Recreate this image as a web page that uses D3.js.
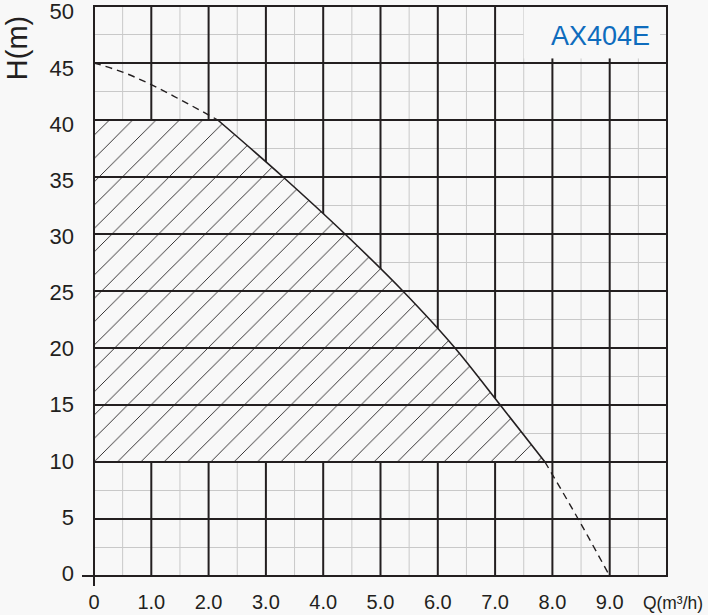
<!DOCTYPE html>
<html><head><meta charset="utf-8">
<script src="https://cdn.jsdelivr.net/npm/d3@7"></script>
<style>html,body{margin:0;padding:0;background:#f8f8f8;}svg{display:block;}</style>
</head><body>
<script>
// ---- data ----
const qTicks = [0, 1, 2, 3, 4, 5, 6, 7, 8, 9];
const qTickLabels = ["0", "1.0", "2.0", "3.0", "4.0", "5.0", "6.0", "7.0", "8.0", "9.0"];
const hTicks = [0, 5, 10, 15, 20, 25, 30, 35, 40, 45, 50];
const hTickLabels = ["0", "5", "10", "15", "20", "25", "30", "35", "40", "45", "50"];
const curveQ = [0, 0.5, 1.0, 1.5, 2.16, 3.3, 4.38, 5.39, 6.3, 7.09, 7.87, 8.45, 9.0];
const curveH = [45, 44.2, 43.1, 41.8, 40, 35, 30, 25, 20, 15, 10, 5, 0];
const solidFrom = 4, solidTo = 10; // indices of solid (working range) part
const hatchTop = 40, hatchBottom = 10;
const modelName = "AX404E";
const xTitle = "Q(m³/h)", yTitle = "H(m)";

const W = 708, Hh = 615;
const x = d3.scaleLinear().domain([0, 10]).range([94, 667]);
const y = d3.scaleLinear().domain([0, 50]).range([576, 6]);
const yLab = d3.scaleLinear().domain([0, 50]).range([573, 11.5]);

const dark = "#231f20", minorC = "#c9c9c9", bg = "#f8f8f8";
const svg = d3.select("body").append("svg").attr("width", W).attr("height", Hh);
svg.append("rect").attr("width", W).attr("height", Hh).attr("fill", bg);

// hatch pattern
const s = 23.33;
const defs = svg.append("defs");
const pat = defs.append("pattern").attr("id", "hatch").attr("patternUnits", "userSpaceOnUse")
  .attr("width", s).attr("height", s)
  .attr("x", (x(0) + y(hatchBottom)) % s).attr("y", 0);
pat.append("rect").attr("width", s).attr("height", s).attr("fill", bg);
pat.append("path").attr("d", `M-2,2L2,-2M0,${s}L${s},0M${s-2},${s+2}L${s+2},${s-2}`)
  .attr("stroke", dark).attr("stroke-width", 0.9);

// minor grid
const minorQ = d3.range(0.5, 10, 1), minorH = d3.range(2.5, 50, 5);
svg.append("g").selectAll("line").data(minorQ).join("line")
  .attr("x1", d => x(d)).attr("x2", d => x(d)).attr("y1", y(0)).attr("y2", y(50))
  .attr("stroke", minorC).attr("stroke-width", 1);
svg.append("g").selectAll("line").data(minorH).join("line")
  .attr("y1", d => y(d)).attr("y2", d => y(d)).attr("x1", x(0)).attr("x2", x(10))
  .attr("stroke", minorC).attr("stroke-width", 1);
// major vertical grid
svg.append("g").selectAll("line").data(d3.range(1, 10)).join("line")
  .attr("x1", d => x(d)).attr("x2", d => x(d)).attr("y1", y(0)).attr("y2", y(50))
  .attr("stroke", dark).attr("stroke-width", 2);

// hatched working area
const pts = curveQ.map((q, i) => [q, curveH[i]]);
const line = d3.line().x(d => x(d[0])).y(d => y(d[1])).curve(d3.curveMonotoneX);
const solidPts = pts.slice(solidFrom, solidTo + 1);
const solidD = line(solidPts);
const areaD = `M${x(0)},${y(hatchTop)}L` + solidD.slice(1) +
  `L${x(solidPts[solidPts.length-1][0])},${y(hatchBottom)}L${x(0)},${y(hatchBottom)}Z`;
svg.append("path").attr("d", areaD).attr("fill", "url(#hatch)");

// label box covering the grid
svg.append("rect").attr("x", x(7.5)).attr("y", y(50)).attr("width", x(9.88) - x(7.5))
  .attr("height", y(45.4) - y(50)).attr("fill", bg);

// major horizontal grid
svg.append("g").selectAll("line").data(d3.range(5, 50, 5)).join("line")
  .attr("y1", d => y(d)).attr("y2", d => y(d)).attr("x1", x(0)).attr("x2", x(10))
  .attr("stroke", dark).attr("stroke-width", 2);

// border and axes
svg.append("line").attr("x1", x(0)).attr("x2", x(10)).attr("y1", y(50)).attr("y2", y(50)).attr("stroke", dark).attr("stroke-width", 2);
svg.append("line").attr("x1", x(10)).attr("x2", x(10)).attr("y1", y(50) - 1).attr("y2", y(0) + 1).attr("stroke", dark).attr("stroke-width", 2);
svg.append("line").attr("x1", x(0) - 12).attr("x2", x(10) + 1).attr("y1", y(0)).attr("y2", y(0)).attr("stroke", dark).attr("stroke-width", 2);
svg.append("line").attr("x1", x(0)).attr("x2", x(0)).attr("y1", y(50) - 1).attr("y2", y(0) + 10).attr("stroke", dark).attr("stroke-width", 2);

// curve
const curveG = svg.append("g").attr("fill", "none").attr("stroke", dark);
curveG.append("path").attr("d", line(pts.slice(0, solidFrom + 1))).attr("stroke-width", 1.4).attr("stroke-dasharray", "7,5");
curveG.append("path").attr("d", solidD).attr("stroke-width", 1.6);
curveG.append("path").attr("d", line(pts.slice(solidTo))).attr("stroke-width", 1.4).attr("stroke-dasharray", "7,5");

// tick labels
const font = "'Liberation Sans', Arial, sans-serif";
svg.append("g").selectAll("text").data(hTicks).join("text")
  .attr("x", 74).attr("y", d => yLab(d)).attr("dy", "0.36em").attr("text-anchor", "end")
  .attr("font-family", font).attr("font-size", 22).attr("fill", dark)
  .text((d, i) => hTickLabels[i]);
svg.append("g").selectAll("text").data(qTicks).join("text")
  .attr("x", d => x(d)).attr("y", 609).attr("text-anchor", "middle")
  .attr("font-family", font).attr("font-size", 20).attr("fill", dark)
  .text((d, i) => qTickLabels[i]);

// axis titles
svg.append("text").attr("x", 643).attr("y", 609).attr("font-family", font).attr("font-size", 19)
  .attr("fill", dark).attr("textLength", 60).attr("lengthAdjust", "spacingAndGlyphs").text(xTitle);
svg.append("text").attr("transform", "translate(26.5,48) rotate(-90)").attr("text-anchor", "middle")
  .attr("font-family", font).attr("font-size", 29).attr("fill", dark).text(yTitle);

// model name
svg.append("text").attr("x", 551).attr("y", 45).attr("font-family", font).attr("font-size", 27)
  .attr("fill", "#0f6cbd").text(modelName);
</script>
</body></html>
